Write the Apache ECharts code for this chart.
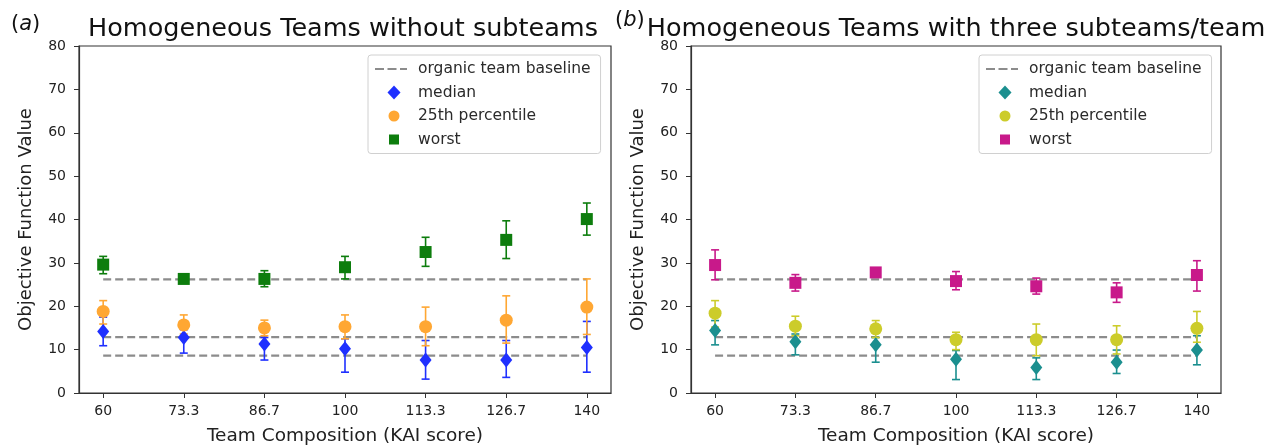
<!DOCTYPE html>
<html>
<head>
<meta charset="utf-8">
<script src="https://cdn.jsdelivr.net/npm/echarts@6/dist/echarts.min.js"></script>
<style>html,body{margin:0;padding:0;background:#fff}#c{width:1264px;height:447px}</style>
</head>
<body>
<div id="c"></div>
<script>
// ---- data ----
const xs = [60, 73.33, 86.67, 100, 113.33, 126.67, 140];
const xLabels = ['60', '73.3', '86.7', '100', '113.3', '126.7', '140'];
const yTicks = [0, 10, 20, 30, 40, 50, 60, 70, 80];
const baselines = [26.2, 12.9, 8.6];

// (a) without subteams
const aMedian   = [14.2, 12.8, 11.3, 10.2, 7.6, 7.6, 10.5];
const aMedianLo = [10.9, 9.2, 7.6, 4.8, 3.2, 3.6, 4.8];
const aMedianHi = [17.5, 14.6, 12.8, 12.5, 12.1, 12.1, 16.5];
const a25       = [18.8, 15.7, 15.0, 15.3, 15.3, 16.8, 19.8];
const a25Lo     = [15.9, 13.6, 13.2, 12.5, 10.9, 11.5, 13.5];
const a25Hi     = [21.3, 18.0, 16.8, 18.0, 19.8, 22.4, 26.3];
const aWorst    = [29.6, 26.3, 26.3, 29.0, 32.5, 35.3, 40.1];
const aWorstLo  = [27.5, 25.3, 24.5, 26.3, 29.2, 31.0, 36.4];
const aWorstHi  = [31.5, 27.3, 28.2, 31.5, 35.9, 39.7, 43.8];

// (b) three subteams/team
const bMedian   = [14.4, 11.8, 11.1, 7.8, 5.9, 7.1, 9.9];
const bMedianLo = [11.1, 8.8, 7.1, 3.1, 3.1, 4.5, 6.5];
const bMedianHi = [16.7, 13.6, 12.8, 9.8, 8.1, 9.9, 13.2];
const b25       = [18.4, 15.4, 14.8, 12.3, 12.3, 12.3, 14.9];
const b25Lo     = [15.2, 13.2, 12.8, 10.0, 8.6, 9.0, 11.7];
const b25Hi     = [21.3, 17.7, 16.7, 14.0, 15.9, 15.5, 18.8];
const bWorst    = [29.5, 25.4, 27.8, 25.8, 24.6, 23.2, 27.2];
const bWorstLo  = [26.1, 23.5, 26.7, 23.8, 22.8, 20.9, 23.5];
const bWorstHi  = [33.0, 27.3, 28.6, 28.0, 26.5, 25.4, 30.5];

// ---- chart ----
const FONT = 'DejaVu Sans';
const chart = echarts.init(document.getElementById('c'), null, {renderer: 'canvas'});

function pts(vals) { return xs.map((x, i) => [x, vals[i]]); }
function bars(lo, hi) { return xs.map((x, i) => [x, lo[i], hi[i]]); }

function errSeries(idx, lo, hi, color) {
  return {
    type: 'custom', xAxisIndex: idx, yAxisIndex: idx, silent: true,
    data: bars(lo, hi), encode: {x: 0, y: [1, 2]}, z: 3,
    renderItem: function (params, api) {
      const x = api.value(0);
      const p1 = api.coord([x, api.value(1)]);
      const p2 = api.coord([x, api.value(2)]);
      const cw = 4;
      const st = {stroke: color, lineWidth: 1.6};
      return {type: 'group', children: [
        {type: 'line', shape: {x1: p1[0], y1: p1[1], x2: p2[0], y2: p2[1]}, style: st},
        {type: 'line', shape: {x1: p1[0] - cw, y1: p1[1], x2: p1[0] + cw, y2: p1[1]}, style: st},
        {type: 'line', shape: {x1: p2[0] - cw, y1: p2[1], x2: p2[0] + cw, y2: p2[1]}, style: st}
      ]};
    }
  };
}

function baseSeries(idx, name) {
  return baselines.map(v => ({
    type: 'line', name: name, xAxisIndex: idx, yAxisIndex: idx,
    data: [[xs[0], v], [xs[xs.length - 1], v]],
    symbol: 'none', showSymbol: false, silent: true, z: 2,
    lineStyle: {color: '#8c8c8c', width: 2.2, type: [8, 4]},
    itemStyle: {color: '#8c8c8c'}
  }));
}

function scat(idx, name, vals, color, symbol, size) {
  return {
    type: 'scatter', name: name, xAxisIndex: idx, yAxisIndex: idx,
    data: pts(vals), symbol: symbol, symbolSize: size, z: 4,
    itemStyle: {color: color, opacity: 1}
  };
}

function xAxis(idx) {
  return {
    type: 'value', gridIndex: idx, min: 56, max: 144,
    name: 'Team Composition (KAI score)', nameLocation: 'middle', nameGap: 34,
    nameTextStyle: {fontFamily: FONT, fontSize: 18.5, color: '#222'},
    axisLine: {show: true, lineStyle: {color: '#333', width: 1.2}},
    axisTick: {show: true, length: 5, customValues: xs, lineStyle: {color: '#333'}},
    axisLabel: {customValues: xs, fontFamily: FONT, fontSize: 14, color: '#222', margin: 11,
      formatter: v => { const i = xs.indexOf(v); return i >= 0 ? xLabels[i] : ''; }},
    splitLine: {show: false}
  };
}
function yAxis(idx) {
  return {
    type: 'value', gridIndex: idx, min: 0, max: 80, interval: 10,
    name: 'Objective Function Value', nameLocation: 'middle', nameGap: 44, nameRotate: 90,
    nameTextStyle: {fontFamily: FONT, fontSize: 18, color: '#222'},
    axisLine: {show: true, lineStyle: {color: '#333', width: 1.2}},
    axisTick: {show: true, length: 5, lineStyle: {color: '#333'}},
    axisLabel: {fontFamily: FONT, fontSize: 14, color: '#222', margin: 13,
      formatter: v => yTicks.indexOf(v) >= 0 ? String(v) : ''},
    splitLine: {show: false}
  };
}

// legend icons (tiny specks keep the icon box size fixed)
const ICON_DASH = 'path://M0,0h9v2.2h-9z M12.5,0h9v2.2h-9z M25,0h7v2.2h-7z M37.9,1h0.1v0.1h-0.1z';
const ICON_DIAMOND = 'path://M6.5,0L13,7L6.5,14L0,7Z';
const ICON_CIRCLE = 'path://M0,0h0.05v0.05h-0.05z M13.95,13.95h0.05v0.05h-0.05z M7,1.5A5.5,5.5,0,1,1,6.99,1.5Z';
const ICON_SQUARE = 'path://M2,2h10v10h-10z M0,0h0.05v0.05h-0.05z M13.95,13.95h0.05v0.05h-0.05z';

function legend(left, suffix) {
  return {
    orient: 'vertical', left: left, top: 55,
    data: [
      {name: 'organic team baseline' + suffix, icon: ICON_DASH},
      {name: 'median' + suffix, icon: ICON_DIAMOND},
      {name: '25th percentile' + suffix, icon: ICON_CIRCLE},
      {name: 'worst' + suffix, icon: ICON_SQUARE}
    ],
    formatter: n => suffix ? n.replace(suffix, '') : n,
    backgroundColor: '#fff', borderColor: '#d0d0d0', borderWidth: 1, borderRadius: 3,
    padding: [6, 10, 6, 7], itemGap: 7.5, itemWidth: 38, itemHeight: 14,
    symbolKeepAspect: true,
    textStyle: {fontFamily: FONT, fontSize: 15.5, color: '#2a2a2a'},
    selectedMode: false
  };
}

const option = {
  animation: false,
  backgroundColor: '#fff',
  title: [
    {text: '({i|a})', left: 6, top: 9, textStyle: {fontFamily: FONT, fontSize: 21, fontWeight: 'normal', color: '#111',
      rich: {i: {fontFamily: FONT, fontSize: 21, fontStyle: 'italic', color: '#111'}}}},
    {text: 'Homogeneous Teams without subteams', left: 338, top: 11, textAlign: 'center',
      textStyle: {fontFamily: FONT, fontSize: 25.5, fontWeight: 'normal', color: '#111'}},
    {text: '({i|b})', left: 610, top: 5, textStyle: {fontFamily: FONT, fontSize: 21, fontWeight: 'normal', color: '#111',
      rich: {i: {fontFamily: FONT, fontSize: 21, fontStyle: 'italic', color: '#111'}}}},
    {text: 'Homogeneous Teams with three subteams/team', left: 951, top: 11, textAlign: 'center',
      textStyle: {fontFamily: FONT, fontSize: 25.5, fontWeight: 'normal', color: '#111'}}
  ],
  grid: [
    {left: 79, top: 46, width: 532, height: 347, show: true, borderColor: '#333', borderWidth: 1.2,
     backgroundColor: 'transparent', outerBoundsMode: 'none', containLabel: false},
    {left: 691, top: 46, width: 530, height: 347, show: true, borderColor: '#333', borderWidth: 1.2,
     backgroundColor: 'transparent', outerBoundsMode: 'none', containLabel: false}
  ],
  xAxis: [xAxis(0), xAxis(1)],
  yAxis: [yAxis(0), yAxis(1)],
  legend: [legend(368, ''), legend(979, '_b')],
  series: [].concat(
    baseSeries(0, 'organic team baseline'),
    [errSeries(0, aMedianLo, aMedianHi, '#1f30ff'),
     errSeries(0, a25Lo, a25Hi, '#ffa733'),
     errSeries(0, aWorstLo, aWorstHi, '#0d7d0d'),
     scat(0, 'median', aMedian, '#1f30ff', 'diamond', [12, 15]),
     scat(0, '25th percentile', a25, '#ffa733', 'circle', 13),
     scat(0, 'worst', aWorst, '#0d7d0d', 'rect', 12)],
    baseSeries(1, 'organic team baseline_b'),
    [errSeries(1, bMedianLo, bMedianHi, '#1b8f8f'),
     errSeries(1, b25Lo, b25Hi, '#cccc2a'),
     errSeries(1, bWorstLo, bWorstHi, '#c8198a'),
     scat(1, 'median_b', bMedian, '#1b8f8f', 'diamond', [12, 15]),
     scat(1, '25th percentile_b', b25, '#cccc2a', 'circle', 13),
     scat(1, 'worst_b', bWorst, '#c8198a', 'rect', 12)]
  )
};
chart.setOption(option);
</script>
</body>
</html>
